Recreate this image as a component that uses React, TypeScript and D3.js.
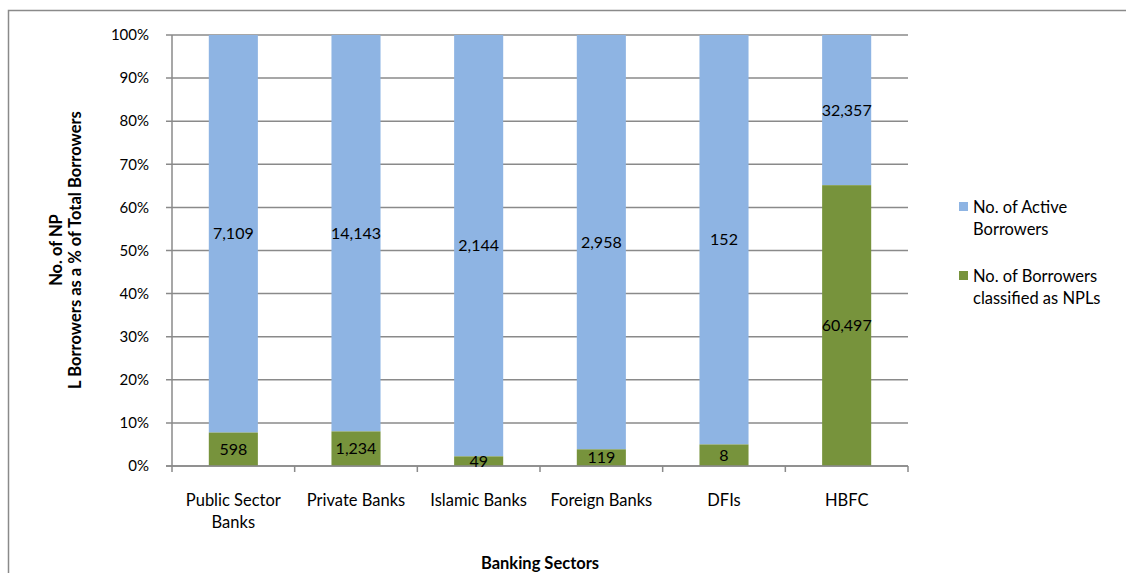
import React from "react";
import * as d3 from "d3";

const categories = ["Public Sector Banks", "Private Banks", "Islamic Banks", "Foreign Banks", "DFIs", "HBFC"];
const categoryLines = [["Public Sector", "Banks"], ["Private Banks"], ["Islamic Banks"], ["Foreign Banks"], ["DFIs"], ["HBFC"]];
const nplBorrowers = [598, 1234, 49, 119, 8, 60497];
const activeBorrowers = [7109, 14143, 2144, 2958, 152, 32357];
const yTicks = [0, 0.1, 0.2, 0.3, 0.4, 0.5, 0.6, 0.7, 0.8, 0.9, 1.0];
const seriesNames = ["No. of Active Borrowers", "No. of Borrowers classified as NPLs"];
const legendLines = [["No. of Active", "Borrowers"], ["No. of Borrowers", "classified as NPLs"]];

const W = 1126, H = 573;
const plot = { left: 172, right: 908, top: 35, bottom: 466 };
const BLUE = "#8EB4E3";
const GREEN = "#77933C";
const GRID = "#8A8A8A";
const FONT = "Lato, 'Open Sans', sans-serif";

export default function App() {
  const x = d3.scaleBand<string>().domain(categories).range([plot.left, plot.right]).paddingInner(0.6).paddingOuter(0.3);
  const y = d3.scaleLinear().domain([0, 1]).range([plot.bottom, plot.top]);
  const fmt = d3.format(",");
  const bounds = d3.range(categories.length + 1).map((i) => plot.left + i * ((plot.right - plot.left) / categories.length));

  const rows = categories.map((c, i) => {
    const total = nplBorrowers[i] + activeBorrowers[i];
    const p = nplBorrowers[i] / total;
    return { c, i, p, npl: nplBorrowers[i], active: activeBorrowers[i] };
  });

  return (
    <svg width={W} height={H} style={{ position: "absolute", left: 0, top: 0, background: "#fff" }} fontFamily={FONT}>
      <rect x={0} y={0} width={W} height={H} fill="#fff" />
      <path d={`M8.5,${H + 5} V10.5 H${W + 5}`} fill="none" stroke={GRID} strokeWidth={1.5} />
      {yTicks.map((t) => (
        <line key={t} x1={plot.left - 6} x2={plot.right} y1={y(t)} y2={y(t)} stroke={GRID} strokeWidth={1.5} />
      ))}
      <line x1={plot.left} x2={plot.left} y1={plot.top} y2={plot.bottom} stroke={GRID} strokeWidth={1.5} />
      {bounds.map((b, i) => (
        <line key={i} x1={b} x2={b} y1={plot.bottom} y2={plot.bottom + 6} stroke={GRID} strokeWidth={1.5} />
      ))}
      {rows.map((r) => (
        <g key={r.c}>
          <rect x={x(r.c)} width={x.bandwidth()} y={y(1)} height={y(r.p) - y(1)} fill={BLUE} />
          <rect x={x(r.c)} width={x.bandwidth()} y={y(r.p)} height={y(0) - y(r.p)} fill={GREEN} />
        </g>
      ))}
      <line x1={plot.left - 6} x2={plot.right} y1={plot.bottom} y2={plot.bottom} stroke={GRID} strokeWidth={1.5} />
      {rows.map((r) => {
        const cx = (x(r.c) as number) + x.bandwidth() / 2;
        return (
          <g key={"l" + r.c} fontSize={16} fill="#000" textAnchor="middle">
            <text x={cx} y={y((1 + r.p) / 2)} dy="0.35em">{fmt(r.active)}</text>
            <text x={cx} y={y(r.p / 2)} dy="0.35em">{fmt(r.npl)}</text>
          </g>
        );
      })}
      {yTicks.map((t) => (
        <text key={"t" + t} x={149} y={y(t)} dy="0.35em" textAnchor="end" fontSize={15} fill="#000">
          {d3.format(".0%")(t)}
        </text>
      ))}
      {categories.map((c, i) => (
        <text key={"c" + c} x={(x(c) as number) + x.bandwidth() / 2} y={506} textAnchor="middle" fontSize={16.5} fill="#000">
          {categoryLines[i].map((ln, j) => (
            <tspan key={j} x={(x(c) as number) + x.bandwidth() / 2} dy={j === 0 ? 0 : 22}>{ln}</tspan>
          ))}
        </text>
      ))}
      <text x={540} y={569} textAnchor="middle" fontSize={16.5} fontWeight="bold" fill="#000">Banking Sectors</text>
      <text transform={`translate(62,250) rotate(-90)`} textAnchor="middle" fontSize={16.5} fontWeight="bold" fill="#000">
        <tspan x={0} dy={0}>No. of NP</tspan>
        <tspan x={0} dy={19}>L Borrowers as a % of Total Borrowers</tspan>
      </text>
      {seriesNames.map((s, i) => (
        <g key={s} transform={`translate(959,${207 + i * 69})`}>
          <rect x={0} y={-5} width={9} height={9} fill={i === 0 ? BLUE : GREEN} />
          <text x={14} y={0} fontSize={16.5} fill="#000">
            {legendLines[i].map((ln, j) => (
              <tspan key={j} x={14} dy={j === 0 ? "0.35em" : 22}>{ln}</tspan>
            ))}
          </text>
        </g>
      ))}
    </svg>
  );
}
